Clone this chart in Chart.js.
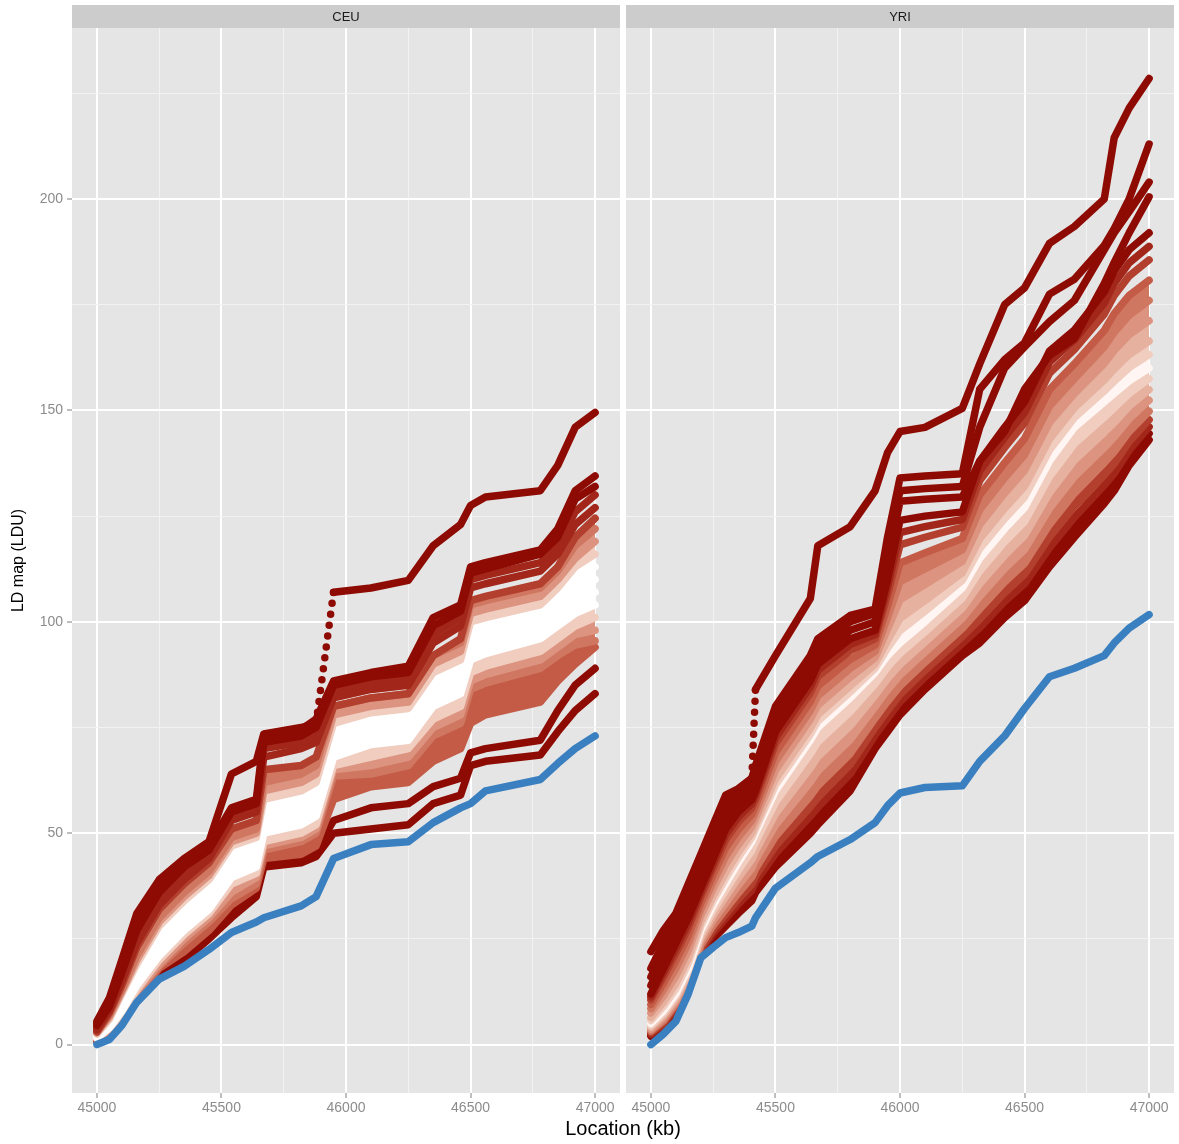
<!DOCTYPE html>
<html>
<head>
<meta charset="utf-8">
<script src="https://cdn.jsdelivr.net/npm/chart.js@4/dist/chart.umd.min.js"></script>
<style>
  html, body { margin: 0; padding: 0; background: #ffffff; }
  body { width: 1179px; height: 1144px; position: relative; overflow: hidden; font-family: 'Liberation Sans', Arial, sans-serif; }
  #c1 { position: absolute; left: 0; top: 0; }
  #c2 { position: absolute; left: 624px; top: 0; }
  #xtitle { position: absolute; left: 423px; width: 400px; top: 1117px; text-align: center; font-size: 20px; line-height: 22px; color: #000; }
</style>
</head>
<body>
<canvas id="c1" width="622" height="1144"></canvas>
<canvas id="c2" width="555" height="1144"></canvas>
<div id="xtitle">Location (kb)</div>
<script>
// ---------------- DATA ----------------
const panels = ['CEU', 'YRI'];
const xMajorTicks = [45000, 45500, 46000, 46500, 47000];
const xMinorTicks = [45250, 45750, 46250, 46750];
const yMajorTicks = [0, 50, 100, 150, 200];
const yMinorTicks = [25, 75, 125, 175, 225];

// CEU panel: locations (kb) where each series was read
const ceuX = [45000, 45050, 45100, 45160, 45250, 45350, 45450, 45540, 45640, 45670, 45820, 45880, 45950, 46100, 46250, 46350, 46460, 46500, 46560, 46780, 46850, 46920, 47000];
const ceuBlue = [0, 1.2, 4.5, 10, 15.5, 18.5, 22.5, 26.5, 29, 30, 32.8, 35, 44, 47.3, 48, 52.5, 56, 57, 60, 62.7, 66.5, 70, 73];
const ceuS0 = [5.5, 11, 20, 31, 39, 44, 48, 64, 67, 73.5, 75, 76, 107, 108, 109.8, 118, 123, 127.5, 129.5, 131, 137, 146, 149.5];
const ceuS1 = [5, 10, 19, 30, 38, 43.5, 47, 56, 58, 73, 74.5, 77, 86, 88, 89.5, 101, 104, 113, 114, 117, 122, 131, 134.5];
const ceuS2 = [4.5, 9, 17, 27, 36, 42, 46, 55, 57, 71.5, 73, 75, 85, 87, 88, 99, 102.5, 111.5, 112.5, 116, 120, 129, 132];
const ceuS3 = [4, 8.5, 16, 25, 34, 40, 45, 54, 56, 70, 71.5, 73, 83.5, 85.5, 86.5, 97, 101, 110, 111, 114, 118, 126, 130];
const ceuS4 = [3.5, 8, 15, 24, 33, 39, 44, 53, 55, 68, 70, 71.5, 82, 84, 85, 95, 99, 108, 109, 112, 116, 123, 127];
const ceuS5 = [3, 7.5, 14, 23, 32, 38, 43, 51, 53, 65, 66, 68, 80, 82, 83, 92, 96, 105, 106, 109, 113, 120, 124.5];
const ceuS6 = [3, 7, 13, 21, 30, 36, 41, 49, 51, 62, 64, 66, 80, 82, 83, 92, 95, 104, 105, 108, 112, 118, 122];
const ceuS7 = [2.8, 6.5, 12.5, 20, 29, 35, 40, 48, 50, 60, 62, 64, 78, 80, 81, 90, 93, 102, 103, 106, 110, 115, 119];
const ceuS8 = [2.5, 6, 12, 19, 28, 34, 39, 47, 49, 58, 60, 62, 76, 78.5, 79.5, 88, 91, 100, 101, 104, 108, 113, 116];
const ceuS9 = [2.3, 5.5, 11, 17.5, 26, 32, 37, 45, 47.5, 56, 58, 60, 74, 77, 78, 86, 89, 97, 98.5, 102, 105, 110, 113];
const ceuS10 = [2, 5, 10, 16, 24, 30, 35, 43, 46, 54, 56, 58, 72, 75, 76, 84, 87, 95, 96.5, 100, 103, 107, 110];
const ceuS11 = [1.8, 4.5, 9, 15, 22.5, 28.5, 33.5, 41, 44, 52, 54, 56, 70, 73, 74, 82, 85, 93, 94.5, 98, 101, 105, 107];
const ceuS12 = [1.6, 4, 8, 14, 21, 27, 32, 39.5, 42, 50, 52, 54, 68, 71, 72, 80, 83, 91, 92.5, 96, 99, 102, 104];
const ceuS13 = [1.5, 3.8, 7.5, 13, 20, 26, 31, 38, 40.5, 48, 50, 52, 66, 68, 70, 77, 80, 88, 89.5, 93, 96, 99, 101];
const ceuS14 = [1.3, 3.5, 7, 12.5, 19, 25, 30, 36, 39.5, 47, 49, 51, 65, 66, 68, 75, 78, 86, 87.5, 91, 94, 97, 98];
const ceuS15 = [1.2, 3.3, 6.8, 12, 18.5, 24, 29, 34.5, 38, 46, 48, 50, 63.5, 64, 66, 73, 76, 84, 85.5, 89, 92, 94.5, 95.5];
const ceuS16 = [1.1, 3, 6.5, 11.5, 18, 22, 27, 33, 37, 44, 45, 47, 58, 61, 62, 67, 70, 76, 78, 81, 86, 90, 94];
const ceuS17 = [1, 2.7, 6.2, 11, 17.5, 21, 26, 31.5, 36, 43, 44, 46, 53, 56, 57, 61, 63, 69, 70, 72, 79, 85, 89];
const ceuS18 = [0.8, 2.4, 5.8, 10.5, 17, 20, 25, 30, 35, 42, 43, 44.5, 50, 51, 52, 57, 59, 66, 67, 68.5, 74, 79, 83];

// YRI panel
const yriX = [45000, 45050, 45100, 45150, 45200, 45250, 45300, 45350, 45405, 45420, 45500, 45640, 45670, 45800, 45900, 45950, 46000, 46100, 46250, 46320, 46420, 46500, 46600, 46700, 46820, 46860, 46920, 47000];
const yriBlue = [0, 2.5, 5.5, 12, 20.5, 23, 25.3, 26.5, 28, 30, 37, 43, 44.5, 48.5, 52.5, 56.5, 59.5, 60.8, 61.2, 67, 73, 79.5, 87, 89, 92, 95, 98.5, 101.7];
const yriA = [22, 27, 31, 38, 45, 52, 59, 60.5, 63, 84, 92, 105.5, 118, 122.5, 131, 140, 145, 146, 150.5, 161, 175, 179, 189.5, 193.5, 200, 214.5, 221.5, 228.5];
const yriB = [18, 24, 29, 36, 43, 50, 57, 60, 63, 66, 80, 92, 96, 101.5, 103, 120, 134, 134.5, 135, 155, 162, 166, 177.5, 181, 189, 193, 200, 213];
const yriC = [16, 22, 27, 34, 41, 48, 55, 58.5, 61, 64, 78, 90, 94, 100, 102, 117, 131, 131.5, 132, 146, 160, 165, 171, 176, 188, 192, 197, 204];
const yriD = [14, 20, 25, 32, 39, 46, 53, 57, 59.5, 62, 76, 88, 92, 98, 100, 114, 128.5, 129, 129.5, 138, 145, 155, 163, 167, 180, 185, 192, 200.5];
const yriT1 = [12, 18, 24, 30, 37, 44, 51, 55, 58, 60, 74, 86, 90, 96, 98, 110, 124, 125, 126, 138, 146, 152, 164, 169, 178, 183, 188, 192];
const yriT2 = [11.3, 17, 22.8, 28.8, 36, 42.9, 49.7, 53.8, 57, 59, 72.6, 84.6, 88.5, 94.6, 97, 108.2, 121.1, 122.5, 124.2, 135.7, 143.6, 149.5, 161.4, 166.7, 175.4, 180.1, 184.9, 188.8];
const yriT3 = [10.6, 16, 21.6, 27.6, 35, 41.8, 48.4, 52.6, 56, 58, 71.2, 83.2, 87, 93.2, 96, 106.4, 118.2, 120, 122.4, 133.4, 141.2, 147, 158.8, 164.4, 172.8, 177.2, 181.8, 185.6];
const yriP1 = [9.5, 14.5, 19.8, 25.8, 33.5, 40.2, 46.5, 50.8, 54.5, 56.5, 69.1, 81.1, 84.8, 91.1, 94.5, 103.7, 113.9, 116.3, 119.7, 130, 137.6, 143.3, 154.9, 161, 168.9, 172.9, 177.2, 180.8];
const yriP2 = [8.5, 13, 18, 24, 32, 38.5, 44.5, 49, 53, 55, 67, 79, 82.5, 89, 93, 101, 109.5, 112.5, 117, 126.5, 134, 139.5, 151, 157.5, 165, 168.5, 172.5, 176];
const yriP3 = [7.5, 11.5, 16.2, 22.2, 30.5, 36.9, 42.6, 47.2, 51.5, 53.5, 64.9, 76.9, 80.3, 86.9, 91.5, 98.3, 105.2, 108.8, 114.3, 123, 130.4, 135.8, 147.1, 154, 161.1, 164.2, 167.9, 171.2];
const yriP4 = [6.4, 10, 14.4, 20.4, 29, 35.2, 40.6, 45.4, 50, 52, 62.8, 74.8, 78, 84.8, 90, 95.6, 100.8, 105, 111.6, 119.6, 126.8, 132, 143.2, 150.6, 157.2, 159.8, 163.2, 166.4];
const yriW1 = [5.7, 9, 13.2, 19.2, 28, 34.1, 39.3, 44.2, 49, 51, 61.4, 73.4, 76.5, 83.4, 89, 93.8, 97.9, 102.5, 109.8, 117.3, 124.4, 129.5, 140.6, 148.3, 154.6, 156.9, 160.1, 163.2];
const yriW2 = [5, 8, 12, 18, 27, 33, 38, 43, 48, 50, 60, 72, 75, 82, 88, 92, 95, 100, 108, 115, 122, 127, 138, 146, 152, 154, 157, 160];
const yriW3 = [4.5, 7.4, 11.4, 17.3, 26.1, 31.8, 36.5, 41.2, 45.9, 47.9, 57.3, 68.7, 71.6, 78.7, 85.3, 89.3, 92.5, 97.6, 105.6, 112, 118.9, 123.7, 134.3, 142.1, 148.4, 150.6, 154, 157.5];
const yriP5 = [4.1, 6.8, 10.8, 16.5, 25.2, 30.6, 35, 39.4, 43.8, 45.8, 54.6, 65.4, 68.1, 75.4, 82.6, 86.6, 89.9, 95.2, 103.2, 109, 115.7, 120.4, 130.5, 138.2, 144.8, 147.1, 151, 154.9];
const yriP6 = [3.6, 6.2, 10.2, 15.8, 24.3, 29.4, 33.5, 37.6, 41.7, 43.7, 51.9, 62.1, 64.7, 72.1, 79.9, 83.9, 87.4, 92.8, 100.8, 106, 112.6, 117.1, 126.8, 134.3, 141.2, 143.7, 148, 152.4];
const yriP7 = [3.2, 5.6, 9.6, 15, 23.4, 28.2, 32, 35.8, 39.6, 41.6, 49.2, 58.8, 61.2, 68.8, 77.2, 81.2, 84.8, 90.4, 98.4, 103, 109.4, 113.8, 123, 130.4, 137.6, 140.2, 145, 149.8];
const yriM1 = [2.8, 5.1, 9.1, 14.4, 22.7, 27.2, 30.8, 34.4, 37.9, 39.9, 47, 56.2, 58.4, 66.2, 75, 79, 82.8, 88.5, 96.5, 100.6, 106.9, 111.2, 120, 127.3, 134.7, 137.4, 142.6, 147.8];
const yriL1 = [2.5, 4.7, 8.7, 13.9, 22.1, 26.4, 29.8, 33.2, 36.5, 38.5, 45.2, 54, 56.1, 64, 73.2, 77.2, 81.1, 86.9, 94.9, 98.6, 104.8, 109, 117.5, 124.7, 132.3, 135.1, 140.6, 146.1];
const yriL2 = [2.3, 4.4, 8.4, 13.5, 21.5, 25.7, 28.9, 32.1, 35.3, 37.3, 43.6, 52, 54.1, 62, 71.6, 75.6, 79.5, 85.4, 93.4, 96.8, 102.9, 107, 115.3, 122.3, 130.2, 133.1, 138.8, 144.5];
const yriL3 = [2, 4, 8, 13, 21, 25, 28, 31, 34, 36, 42, 50, 52, 60, 70, 74, 78, 84, 92, 95, 101, 105, 113, 120, 128, 131, 137, 143];

// ---------------- STYLE ----------------
const ramp = ['#8E0B03', '#A2271A', '#B33F2E', '#C35B47', '#D07762', '#DC9480', '#E7B1A0', '#F1CDC0', '#F9E6DF', '#FFFFFF'];
const blueColor = '#3A80C0';
const LINE_W = 7.5;

Chart.defaults.font.family = "'Liberation Sans', Arial, sans-serif";

// very long, near-vertical jumps are drawn as sparse dots (as in the original point plot)
function steepDash(ctx) {
  const dx = Math.abs(ctx.p1.x - ctx.p0.x);
  const dy = Math.abs(ctx.p1.y - ctx.p0.y);
  return (dy > 86 && dy > 3 * dx) ? [0, 11] : undefined;
}

function series(xs, ys, color, fill, dotted) {
  const ds = {
    data: xs.map((x, i) => ({ x: x, y: ys[i] })),
    borderColor: color,
    backgroundColor: color,
    borderWidth: LINE_W,
    pointRadius: 0,
    pointHoverRadius: 0,
    tension: 0,
    borderCapStyle: 'round',
    borderJoinStyle: 'round',
    fill: fill ? '-1' : false
  };
  if (dotted) ds.segment = { borderDash: steepDash };
  return ds;
}

const ceuSets = [
  series(ceuX, ceuBlue, blueColor, false, false),
  series(ceuX, ceuS0, ramp[0], false, true),
  series(ceuX, ceuS1, ramp[0], false, false),
  series(ceuX, ceuS2, ramp[0], false, false),
  series(ceuX, ceuS3, ramp[1], false, false),
  series(ceuX, ceuS4, ramp[1], false, false),
  series(ceuX, ceuS5, ramp[2], false, false),
  series(ceuX, ceuS6, ramp[4], true),
  series(ceuX, ceuS7, ramp[5], true),
  series(ceuX, ceuS8, ramp[7], true),
  series(ceuX, ceuS9, ramp[9], true),
  series(ceuX, ceuS10, ramp[9], true),
  series(ceuX, ceuS11, ramp[9], true),
  series(ceuX, ceuS12, ramp[9], true),
  series(ceuX, ceuS13, ramp[7], true),
  series(ceuX, ceuS14, ramp[5], true),
  series(ceuX, ceuS15, ramp[4], true),
  series(ceuX, ceuS16, ramp[3], true),
  series(ceuX, ceuS17, ramp[0], false, false),
  series(ceuX, ceuS18, ramp[0], false, false)
];

const yriSets = [
  series(yriX, yriBlue, blueColor, false, false),
  series(yriX, yriA, ramp[0], false, true),
  series(yriX, yriB, ramp[0], false, true),
  series(yriX, yriC, ramp[0], false, true),
  series(yriX, yriD, ramp[0], false, true),
  series(yriX, yriT1, ramp[0], false, true),
  series(yriX, yriT2, ramp[1], false, true),
  series(yriX, yriT3, ramp[2], false, true),
  series(yriX, yriP1, ramp[3], false),
  series(yriX, yriP2, ramp[4], true),
  series(yriX, yriP3, ramp[5], true),
  series(yriX, yriP4, ramp[6], true),
  series(yriX, yriW1, ramp[7], true),
  series(yriX, yriW2, '#FFF6F3', true),
  series(yriX, yriW3, ramp[7], true),
  series(yriX, yriP5, ramp[6], true),
  series(yriX, yriP6, ramp[5], true),
  series(yriX, yriP7, ramp[4], true),
  series(yriX, yriM1, ramp[2], true),
  series(yriX, yriL1, ramp[1], false),
  series(yriX, yriL2, ramp[0], false),
  series(yriX, yriL3, ramp[0], false)
];

const panelPlugin = {
  id: 'panel',
  beforeDraw(chart, args, opts) {
    const { ctx, chartArea } = chart;
    ctx.save();
    ctx.fillStyle = '#E5E5E5';
    ctx.fillRect(chartArea.left, chartArea.top, chartArea.right - chartArea.left, chartArea.bottom - chartArea.top);
    ctx.fillStyle = '#CCCCCC';
    ctx.fillRect(chartArea.left, 5, chartArea.right - chartArea.left, chartArea.top - 5);
    ctx.fillStyle = '#1A1A1A';
    ctx.font = "13px 'Liberation Sans', Arial, sans-serif";
    ctx.textAlign = 'center';
    ctx.textBaseline = 'middle';
    ctx.fillText(opts.label, (chartArea.left + chartArea.right) / 2, (5 + chartArea.top) / 2 + 1);
    ctx.restore();
  }
};

const tickFont = { size: 14, family: "'Liberation Sans', Arial, sans-serif" };
const tickGrey = '#8C8C8C';

function makeOptions(label, showY) {
  return {
    responsive: false,
    animation: false,
    events: [],
    layout: { padding: showY ? { top: 28, right: 2, left: 0, bottom: 0 } : { top: 28, right: 5, left: 2, bottom: 0 } },
    plugins: {
      legend: { display: false },
      tooltip: { enabled: false },
      panel: { label: label }
    },
    scales: {
      x: {
        type: 'linear',
        min: 44900,
        max: 47100,
        afterBuildTicks: (s) => { s.ticks = xMajorTicks.concat(xMinorTicks).sort((a, b) => a - b).map(v => ({ value: v })); },
        afterFit: (s) => { s.height = 51; },
        border: { display: false },
        grid: {
          color: (c) => (xMajorTicks.includes(c.tick && c.tick.value) ? '#FFFFFF' : '#F2F2F2'),
          lineWidth: (c) => (xMajorTicks.includes(c.tick && c.tick.value) ? 2 : 1),
          tickColor: (c) => (xMajorTicks.includes(c.tick && c.tick.value) ? '#7F7F7F' : 'rgba(0,0,0,0)'),
          tickLength: 5,
          tickWidth: 1
        },
        ticks: {
          autoSkip: false,
          maxRotation: 0,
          minRotation: 0,
          padding: 2,
          color: tickGrey,
          font: tickFont,
          callback: (v) => (xMajorTicks.includes(v) ? String(v) : '')
        }
      },
      y: {
        type: 'linear',
        min: -11.45,
        max: 240.45,
        afterBuildTicks: (s) => { s.ticks = yMajorTicks.concat(yMinorTicks).sort((a, b) => a - b).map(v => ({ value: v })); },
        afterFit: (s) => { s.width = showY ? 72 : 0; },
        border: { display: false },
        grid: {
          color: (c) => (yMajorTicks.includes(c.tick && c.tick.value) ? '#FFFFFF' : '#F2F2F2'),
          lineWidth: (c) => (yMajorTicks.includes(c.tick && c.tick.value) ? 2 : 1),
          tickColor: (c) => (showY && yMajorTicks.includes(c.tick && c.tick.value) ? '#7F7F7F' : 'rgba(0,0,0,0)'),
          drawTicks: showY,
          tickLength: 5,
          tickWidth: 1
        },
        ticks: {
          display: showY,
          autoSkip: false,
          padding: 4,
          color: tickGrey,
          font: tickFont,
          callback: (v) => (yMajorTicks.includes(v) ? String(v) : '')
        },
        title: {
          display: showY,
          text: 'LD map (LDU)',
          color: '#000000',
          font: { size: 16, family: "'Liberation Sans', Arial, sans-serif" },
          padding: { top: 9, bottom: 0 }
        }
      }
    }
  };
}

new Chart(document.getElementById('c1'), {
  type: 'line',
  data: { datasets: ceuSets },
  options: makeOptions(panels[0], true),
  plugins: [panelPlugin]
});

new Chart(document.getElementById('c2'), {
  type: 'line',
  data: { datasets: yriSets },
  options: makeOptions(panels[1], false),
  plugins: [panelPlugin]
});
</script>
</body>
</html>
